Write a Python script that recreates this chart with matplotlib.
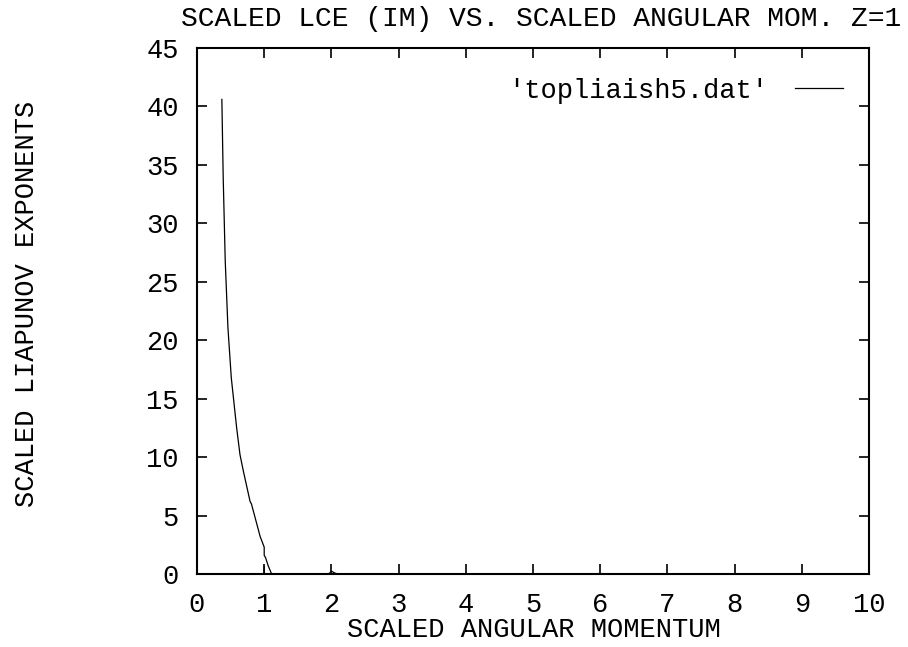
import numpy as np
import matplotlib
matplotlib.use("Agg")
import matplotlib.pyplot as plt

# scaled angular momentum vs scaled Liapunov exponent (topliaish5.dat)
ang_mom = [0.37, 0.39, 0.42, 0.46, 0.51, 0.59, 0.64, 0.69, 0.79, 0.81, 0.94, 0.98, 1.00,
           1.00, 1.02, 1.06, 1.11, 1.40, 1.90, 1.97, 2.00, 2.05, 2.10, 3.0, 5.0, 7.0, 10.0,
           np.nan, 1.00, 1.00]
lce = [40.6, 33.9, 26.8, 21.1, 16.8, 12.5, 10.2, 8.8, 6.2, 6.0, 3.2, 2.6, 2.3,
       1.6, 1.4, 0.7, 0.0, 0.0, 0.0, 0.05, 0.25, 0.08, 0.0, 0.0, 0.0, 0.0, 0.0,
       np.nan, 0.6, 0.0]

x_ticks = list(range(0, 11))
y_ticks = list(range(0, 46, 5))

FONT = "Liberation Mono"
FS = 19.5

fig = plt.figure(figsize=(9.08, 6.47), dpi=100)
ax = fig.add_axes([197 / 908, 1 - 574 / 647, (869 - 197) / 908, (574 - 48) / 647])

ax.plot(ang_mom, lce, color="black", lw=0.9, label="'topliaish5.dat'")

ax.set_xlim(0, 10)
ax.set_ylim(0, 45)
ax.set_xticks(x_ticks)
ax.set_yticks(y_ticks)
ax.tick_params(direction="in", length=7, width=1.2, top=True, right=True,
               labelsize=FS, pad=13)
for lbl in ax.get_xticklabels() + ax.get_yticklabels():
    lbl.set_fontfamily(FONT)
for s in ax.spines.values():
    s.set_linewidth(1.5)

leg = ax.legend(loc="upper right", frameon=False, prop={"family": FONT, "size": FS},
                handlelength=1.75, markerfirst=False, bbox_to_anchor=(0.997, 0.99),
                handletextpad=1.0)

fig.text(541 / 908, 1 - 19 / 647, "SCALED LCE (IM) VS. SCALED ANGULAR MOM. Z=1",
         ha="center", va="center", family=FONT, fontsize=20.2)
fig.text(534 / 908, 1 - 630 / 647, "SCALED ANGULAR MOMENTUM",
         ha="center", va="center", family=FONT, fontsize=FS)
fig.text(27 / 908, 1 - 304 / 647, "SCALED LIAPUNOV EXPONENTS",
         ha="center", va="center", rotation=90, family=FONT, fontsize=FS)

fig.savefig("out.png", dpi=100, facecolor="white")
